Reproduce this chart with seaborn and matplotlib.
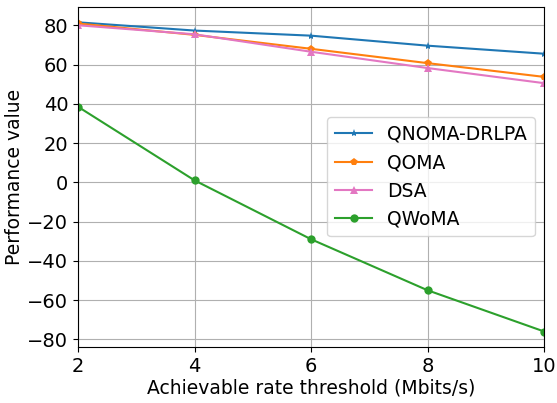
import pandas as pd
import seaborn as sns
import matplotlib
matplotlib.use("Agg")
import matplotlib.pyplot as plt

# --- Data ---
rate = [2, 4, 6, 8, 10]
qnoma_drlpa = [81.5, 77.3, 74.7, 69.6, 65.5]
qoma = [80.9, 75.1, 68.0, 60.7, 53.7]
dsa = [80.0, 75.4, 66.5, 58.2, 50.5]
qwoma = [38.5, 1.0, -29.0, -55.0, -76.0]

series = ["QNOMA-DRLPA", "QOMA", "DSA", "QWoMA"]
values = [qnoma_drlpa, qoma, dsa, qwoma]
colors = ["#1f77b4", "#ff7f0e", "#e377c2", "#2ca02c"]
markers = ["*", "p", "^", "o"]

df = pd.concat([
    pd.DataFrame({"rate": rate, "value": v, "method": name})
    for name, v in zip(series, values)
])

plt.rcParams["font.size"] = 13.5

fig, ax = plt.subplots(figsize=(5.57, 4.03), dpi=100)
for name, c, m in zip(series, colors, markers):
    sns.lineplot(data=df[df["method"] == name], x="rate", y="value",
                 color=c, marker=m, markersize=6, markeredgewidth=0,
                 label=name, ax=ax)

ax.set_xlim(2, 10)
ax.set_xticks([2, 4, 6, 8, 10])
ax.set_yticks(range(-80, 81, 20))
ax.tick_params(labelsize=14)
ax.grid(True, color="#b0b0b0", linewidth=0.8)
ax.set_xlabel("Achievable rate threshold (Mbits/s)", labelpad=2)
ax.set_ylabel("Performance value", labelpad=2)
ax.legend(loc="center right")
fig.subplots_adjust(left=0.14, right=0.977, top=0.983, bottom=0.139)
plt.savefig("out.png", dpi=100)
plt.close()
